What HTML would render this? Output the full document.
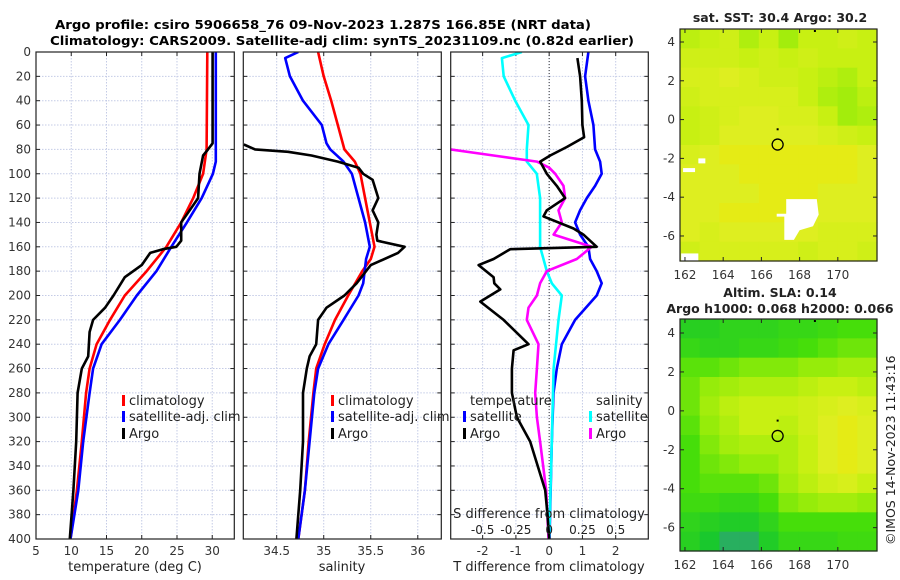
<!DOCTYPE html>
<html><head><meta charset="utf-8"><style>
html,body{margin:0;padding:0;background:#fff}
svg{display:block;font-family:"DejaVu Sans","Liberation Sans",sans-serif}
</style></head><body>
<svg id="fig" width="900" height="580" viewBox="0 0 900 580" xmlns="http://www.w3.org/2000/svg">
<text x="55" y="29" font-size="12.5" font-weight="bold" textLength="536" lengthAdjust="spacingAndGlyphs">Argo profile: csiro 5906658_76 09-Nov-2023 1.287S 166.85E (NRT data)</text>
<text x="50" y="45" font-size="12.5" font-weight="bold" textLength="584" lengthAdjust="spacingAndGlyphs">Climatology: CARS2009. Satellite-adj clim: synTS_20231109.nc (0.82d earlier)</text>
<g id="g"></g>
</svg>
<script>
// ---- data ----
const tClimDepth=[0,80,100,120,140,160,180,200,220,240,260,280,320,360,400];
const tClim=[29.3,29.2,28.7,27.3,25.6,23.5,20.7,17.6,15.5,13.6,12.6,12.1,11.5,10.8,9.9];
const tSatDepth=[0,80,90,100,120,140,160,180,200,220,240,260,280,320,360,400];
const tSat=[30.5,30.5,30.5,30.1,28.5,26.4,24.2,22.1,19.3,16.9,14.3,13.1,12.6,11.7,11.0,9.9];
const tArgoDepth=[0,75,80,85,100,120,130,140,155,160,162,165,175,185,200,210,220,230,250,260,280,320,360,400];
const tArgo=[30.05,30.05,29.4,28.7,28.2,28.0,26.8,25.6,25.6,24.9,23.0,21.2,20.0,17.6,16.0,14.8,13.1,12.6,12.4,11.5,10.9,10.7,10.3,9.8];
const sClimDepth=[0,20,40,60,80,90,100,120,140,160,170,180,200,220,240,260,280,320,360,400];
const sClim=[34.94,35.0,35.08,35.15,35.22,35.33,35.39,35.44,35.49,35.54,35.5,35.41,35.26,35.12,35.01,34.92,34.89,34.84,34.8,34.73];
const sSatDepth=[0,5,20,40,60,75,80,90,100,120,140,160,170,190,200,220,240,260,280,320,360,400];
const sSat=[34.73,34.59,34.64,34.78,34.98,35.03,35.07,35.21,35.3,35.37,35.44,35.49,35.45,35.42,35.37,35.21,35.05,34.94,34.9,34.85,34.8,34.73];
const sArgoDepth=[76,80,82,85,90,95,100,105,120,130,140,150,155,160,165,175,180,190,200,210,220,240,250,260,280,320,360,400];
const sArgo=[34.15,34.27,34.62,34.87,35.15,35.37,35.42,35.52,35.58,35.52,35.58,35.56,35.57,35.86,35.79,35.5,35.45,35.35,35.22,35.03,34.94,34.92,34.85,34.82,34.78,34.78,34.75,34.71];
const dTSatDepth=[0,20,40,60,80,90,100,110,120,130,140,150,160,170,180,190,200,220,240,260,280,320,400];
const dTSat=[1.18,1.08,1.18,1.33,1.38,1.53,1.58,1.38,1.13,0.93,0.78,0.93,1.18,1.23,1.43,1.58,1.43,0.78,0.38,0.23,0.13,0.08,0.01];
const dTArgoDepth=[5,20,40,60,70,78,85,90,100,110,120,130,135,145,150,160,162,170,175,185,190,195,205,220,240,245,260,280,300,320,360,380,400];
const dTArgo=[0.85,0.93,0.98,1.0,1.05,0.53,0.03,-0.27,-0.07,0.23,0.48,-0.07,-0.17,0.73,1.03,1.43,-1.17,-1.67,-2.12,-1.67,-1.65,-1.47,-2.07,-1.37,-0.62,-1.07,-1.12,-1.12,-0.97,-0.57,-0.12,-0.05,0.0];
const dSSatDepth=[0,5,20,40,60,80,90,100,120,160,180,190,200,220,260,320,400];
const dSSat=[-0.205,-0.355,-0.342,-0.255,-0.155,-0.168,-0.168,-0.093,-0.068,-0.068,-0.018,0.02,0.095,0.07,0.033,0.02,0.0];
const dSArgoDepth=[80,85,90,95,100,110,120,130,140,150,160,170,180,190,200,210,220,240,260,280,300,320,360,400];
const dSArgo=[-0.742,-0.418,-0.092,0.0,0.045,0.108,0.12,0.07,0.095,0.033,0.32,0.208,-0.018,-0.068,-0.092,-0.155,-0.168,-0.08,-0.092,-0.105,-0.092,-0.068,-0.022,-0.005];
const depthTicks=[0,20,40,60,80,100,120,140,160,180,200,220,240,260,280,300,320,340,360,380,400];
const tTicks=[5,10,15,20,25,30];
const sTicks=[34.5,35,35.5,36];
const dTTicks=[-2,-1,0,1,2];
const dSTicks=[-0.5,-0.25,0,0.25,0.5];
const dSTickLabels=["-0.5","-0.25","0","0.25","0.5"];
const lonTicks=[162,164,166,168,170];
const latTicks=[4,2,0,-2,-4,-6];
const sstGrid=[
[.65,.7,.75,.6,.7,.55,.7,.7,.75,.7],
[.75,.75,.75,.7,.75,.7,.75,.7,.7,.7],
[.8,.8,.85,.8,.75,.75,.7,.65,.6,.7],
[.75,.8,.8,.8,.8,.8,.7,.6,.55,.65],
[.7,.75,.8,.85,.85,.8,.8,.7,.55,.6],
[.7,.75,.85,.85,.85,.85,.85,.8,.75,.7],
[.8,.85,.9,.9,.9,.9,.9,.9,.9,.85],
[.85,.85,.85,.9,.9,.9,.9,.9,.9,.85],
[.85,.85,.85,.85,.9,.9,.9,.85,.85,.85],
[.85,.85,.9,.9,.9,.9,.85,.85,.85,.85],
[.85,.8,.85,.85,.85,.85,.85,.8,.8,.8],
[.75,.8,.8,.8,.8,.8,.75,.8,.8,.75]];
const slaGrid=[
[.1,.1,.15,.15,.15,.2,.2,.25,.3,.3],
[.2,.15,.15,.2,.2,.25,.3,.35,.4,.4],
[.35,.35,.4,.45,.45,.45,.5,.5,.55,.55],
[.4,.5,.55,.6,.6,.6,.65,.7,.7,.65],
[.4,.55,.65,.7,.7,.7,.75,.8,.85,.8],
[.35,.5,.6,.7,.7,.65,.75,.85,.9,.85],
[.3,.45,.55,.6,.6,.6,.7,.85,.9,.85],
[.3,.4,.45,.5,.5,.6,.7,.85,.9,.85],
[.3,.35,.35,.35,.4,.55,.65,.75,.8,.7],
[.25,.25,.2,.2,.3,.45,.5,.55,.55,.5],
[.15,.1,.05,.05,.15,.3,.3,.3,.3,.3],
[.1,0,-.1,-.1,.05,.2,.2,.2,.25,.25]];
const gapLon=[167.3,168.9,169.0,168.7,168.0,167.7,167.2,167.2,166.8,166.8,167.3];
const gapLat=[-4.1,-4.1,-4.9,-5.5,-5.7,-6.2,-6.2,-5.0,-5.0,-4.85,-4.85];
const argoLon=166.85, argoLat=-1.287;

const NS="http://www.w3.org/2000/svg";
const G=document.getElementById('g');
function el(t,a,p){const e=document.createElementNS(NS,t);for(const k in a)e.setAttribute(k,a[k]);(p||G).appendChild(e);return e;}
function lin(d0,d1,r0,r1){return v=>r0+(v-d0)*(r1-r0)/(d1-d0);}
const Y=lin(0,400,52,539);
const P1={x0:36,x1:234.3,sx:lin(5,33.13,36,234.3)};
const P2={x0:243.3,x1:441.3,sx:lin(34.145,36.25,243.3,441.3)};
const P3={x0:450.7,x1:648.3,sx:lin(-2.96,2.98,450.7,648.3)};
const sS=v=>P3.sx(v*4);
const GRID="#c4cbe6";

function frame(P,name){
  const fr=el('g',{});
  
  
  return fr;
}
function panelBase(P,name,xt,xtl){
  const g=frame(P,name);
  depthTicks.forEach(d=>{
    const l=el('line',{x1:P.x0,x2:P.x1,y1:Y(d),y2:Y(d),stroke:GRID,'stroke-width':1,'stroke-dasharray':'1.5,1.5'},g);
    
    
    el('line',{x1:P.x0,x2:P.x0+4,y1:Y(d),y2:Y(d),stroke:'#222'},g);
    el('line',{x1:P.x1-4,x2:P.x1,y1:Y(d),y2:Y(d),stroke:'#222'},g);
  });
  xt.forEach((v,i)=>{
    const x=P.sx(v);
    const l=el('line',{x1:x,x2:x,y1:52,y2:539,stroke:GRID,'stroke-width':1,'stroke-dasharray':'1.5,1.5'},g);
    
    
    el('line',{x1:x,x2:x,y1:539,y2:535,stroke:'#222'},g);
    el('line',{x1:x,x2:x,y1:52,y2:56,stroke:'#222'},g);
    const t=el('text',{x:x,y:555,'font-size':12,'text-anchor':'middle',fill:'#333'},g);
    t.textContent=xtl?xtl[i]:String(v);
    
    
  });
  return g;
}
function border(P){
  const r=el('rect',{x:P.x0,y:52,width:P.x1-P.x0,height:487,fill:'none',stroke:'#222','stroke-width':1.2});
  
  
}
function line(xs,ds,sx,color,name,clip){
  const pts=xs.map((v,i)=>sx(v).toFixed(1)+','+Y(ds[i]).toFixed(1)).join(' ');
  const p=el('polyline',{points:pts,fill:'none',stroke:color,'stroke-width':2.6,'stroke-linejoin':'round','clip-path':'url(#'+clip+')'});
  
  
}
const defs=el('defs',{});
[['c1',P1],['c2',P2],['c3',P3]].forEach(([id,P])=>{const c=el('clipPath',{id:id},defs);el('rect',{x:P.x0,y:52,width:P.x1-P.x0,height:487},c);});

// panel 1
panelBase(P1,'temperature-panel',tTicks);
depthTicks.forEach(d=>{const t=el('text',{x:31,y:Y(d)+4,'font-size':12,'text-anchor':'end',fill:'#333'});t.textContent=d;
 
 });
line(tClim,tClimDepth,P1.sx,'#f00','temp-climatology-line','c1');
line(tSat,tSatDepth,P1.sx,'#00f','temp-satellite-line','c1');
line(tArgo,tArgoDepth,P1.sx,'#000','temp-argo-line','c1');
border(P1);
// panel 2
panelBase(P2,'salinity-panel',sTicks);
line(sClim,sClimDepth,P2.sx,'#f00','sal-climatology-line','c2');
line(sSat,sSatDepth,P2.sx,'#00f','sal-satellite-line','c2');
line(sArgo,sArgoDepth,P2.sx,'#000','sal-argo-line','c2');
border(P2);
// panel 3
panelBase(P3,'difference-panel',dTTicks);
el('line',{x1:P3.sx(0),x2:P3.sx(0),y1:52,y2:539,stroke:'#333','stroke-width':1,'stroke-dasharray':'1,2'});
line(dTSat,dTSatDepth,P3.sx,'#00f','dt-satellite-line','c3');
line(dSSat,dSSatDepth,sS,'#0ff','ds-satellite-line','c3');
line(dSArgo,dSArgoDepth,sS,'#f0f','ds-argo-line','c3');
line(dTArgo,dTArgoDepth,P3.sx,'#000','dt-argo-line','c3');
border(P3);
dSTicks.forEach((v,i)=>{const t=el('text',{x:sS(v),y:534,'font-size':12,'text-anchor':'middle',fill:'#222'});t.textContent=dSTickLabels[i];
 
 });

function txt(x,y,s,name,extra){const t=el('text',Object.assign({x:x,y:y,'font-size':13,fill:'#222'},extra||{}));t.textContent=s;
 
 return t;}
txt(135,571,'temperature (deg C)','temp-axis-title',{'text-anchor':'middle'});
txt(342,571,'salinity','sal-axis-title',{'text-anchor':'middle'});
txt(549,571,'T difference from climatology','t-diff-axis-title',{'text-anchor':'middle'});
txt(549,518,'S difference from climatology','s-diff-axis-title',{'text-anchor':'middle'});

function legend(x,y,color,label,name){
  const r=el('rect',{x:x,y:y-10,width:3,height:11,fill:color});
  
  
  txt(x+7,y,label,name);
}
[[122,'temp'],[331,'sal']].forEach(([x,p])=>{
  legend(x,405,'#f00','climatology',p+'-legend-climatology');
  legend(x,421,'#00f','satellite-adj. clim',p+'-legend-satellite');
  legend(x,438,'#000','Argo',p+'-legend-argo');
});
txt(470,405,'temperature','diff-legend-temp-header');
legend(463,421,'#00f','satellite','diff-legend-t-satellite');
legend(463,438,'#000','Argo','diff-legend-t-argo');
txt(596,405,'salinity','diff-legend-sal-header');
legend(589,421,'#0ff','satellite','diff-legend-s-satellite');
legend(589,438,'#f0f','Argo','diff-legend-s-argo');

// ---- maps ----
function cmap(v){
  const st=[[-0.1,[40,175,95]],[0,[25,200,45]],[0.3,[70,222,10]],[0.5,[150,236,10]],[0.7,[200,240,18]],[0.85,[222,238,32]],[1,[242,230,0]]];
  if(v<=st[0][0])return 'rgb('+st[0][1]+')';
  for(let i=1;i<st.length;i++){if(v<=st[i][0]){const f=(v-st[i-1][0])/(st[i][0]-st[i-1][0]);const a=st[i-1][1],b=st[i][1];
    return 'rgb('+a.map((c,j)=>Math.round(c+(b[j]-c)*f)).join(',')+')';}}
  return 'rgb(242,230,0)';
}
function drawMap(M,grid,name,gap){
  const g=el('g',{});
  
  
  const sx=lin(M.lon0,M.lon1,M.x0,M.x1), sy=lin(M.lat0,M.lat1,M.y0,M.y1);
  const nr=grid.length,nc=grid[0].length;
  const cw=(M.x1-M.x0)/nc,ch=(M.y1-M.y0)/nr;
  grid.forEach((row,i)=>row.forEach((v,j)=>{
    const r=el('rect',{x:(M.x0+j*cw).toFixed(2),y:(M.y0+i*ch).toFixed(2),width:(cw+0.6).toFixed(2),height:(ch+0.6).toFixed(2),fill:cmap(v)},g);
    
    
  }));
  if(gap){
    const p=el('polygon',{points:gapLon.map((lo,i)=>sx(lo).toFixed(1)+','+sy(gapLat[i]).toFixed(1)).join(' '),fill:'#fff'},g);
    
    
    el('rect',{x:sx(161.8),y:sy(-6.9),width:sx(162.7)-sx(161.8),height:M.y1-sy(-6.9),fill:'#fff'},g);
    el('rect',{x:sx(161.9),y:sy(-2.5),width:12,height:4,fill:'#fff'},g);
    el('rect',{x:sx(162.7),y:sy(-2.0),width:7,height:5,fill:'#fff'},g);
  }
  el('rect',{x:M.x0,y:M.y0,width:M.x1-M.x0,height:M.y1-M.y0,fill:'none',stroke:'#222','stroke-width':1.2},g);
  lonTicks.forEach(v=>{const x=sx(v);el('line',{x1:x,x2:x,y1:M.y1,y2:M.y1-4,stroke:'#222'},g);el('line',{x1:x,x2:x,y1:M.y0,y2:M.y0+4,stroke:'#222'},g);
    const t=el('text',{x:x,y:M.y1+18,'font-size':12,'text-anchor':'middle',fill:'#333'},g);t.textContent=v;
    
    });
  latTicks.forEach(v=>{const y=sy(v);el('line',{x1:M.x0,x2:M.x0+4,y1:y,y2:y,stroke:'#222'},g);el('line',{x1:M.x1,x2:M.x1-4,y1:y,y2:y,stroke:'#222'},g);
    const t=el('text',{x:M.x0-5,y:y+4,'font-size':12,'text-anchor':'end',fill:'#333'},g);t.textContent=v;
    
    });
  const c=el('circle',{cx:sx(argoLon),cy:sy(argoLat),r:5.5,fill:'none',stroke:'#000','stroke-width':1.3},g);
  
  
  el('rect',{x:sx(argoLon)-1,y:sy(-0.5)-1,width:2,height:2,fill:'#000'},g);
  el('rect',{x:sx(168.8)-1,y:M.y0+1,width:2,height:2,fill:'#000'},g);
}
drawMap({x0:680,x1:877,y0:29,y1:261,lon0:161.74,lon1:172.05,lat0:4.67,lat1:-7.29},sstGrid,'sst-map',true);
drawMap({x0:680,x1:877,y0:319,y1:551,lon0:161.74,lon1:172.05,lat0:4.72,lat1:-7.2},slaGrid,'sla-map',false);
txt(780,22,'sat. SST: 30.4  Argo: 30.2','sst-map-title',{'text-anchor':'middle','font-weight':'bold','font-size':12.5});
txt(780,297,'Altim. SLA: 0.14','sla-map-title',{'text-anchor':'middle','font-weight':'bold','font-size':12.5});
txt(780,313,'Argo h1000: 0.068 h2000: 0.066','sla-map-subtitle',{'text-anchor':'middle','font-weight':'bold','font-size':12.5});
txt(0,0,'©IMOS 14-Nov-2023 11:43:16','copyright-stamp',{'font-size':12.5,transform:'translate(895,545) rotate(-90)'});
</script>
</body></html>
